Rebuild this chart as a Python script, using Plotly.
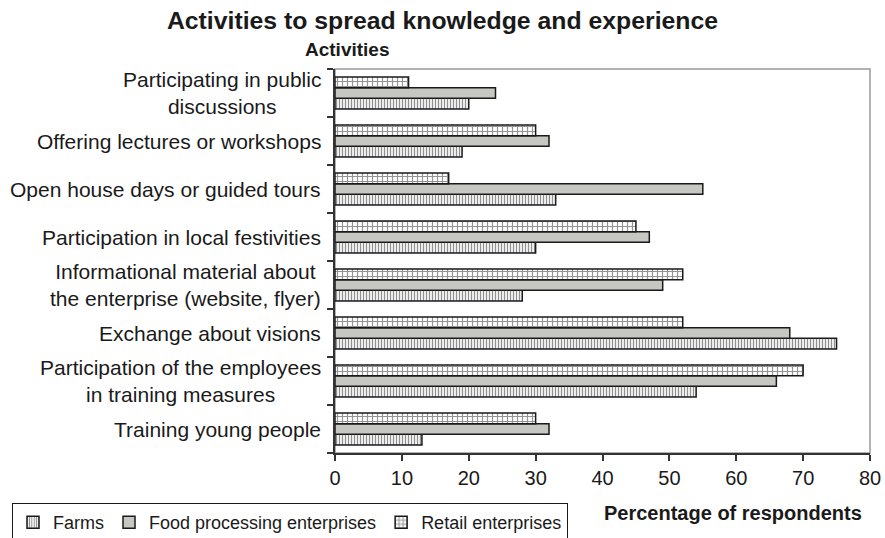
import plotly.graph_objects as go

# Activities, listed bottom-to-top as they appear on the category axis
activities = [
    "Training young people",
    "Participation of the employees<br>in training measures",
    "Exchange about visions",
    "Informational material about<br>the enterprise (website, flyer)",
    "Participation in local festivities",
    "Open house days or guided tours",
    "Offering lectures or workshops",
    "Participating in public<br>discussions",
]

farms = [13, 54, 75, 28, 30, 33, 19, 20]
food_processing = [32, 66, 68, 49, 47, 55, 32, 24]
retail = [30, 70, 52, 52, 45, 17, 30, 11]

x_ticks = [0, 10, 20, 30, 40, 50, 60, 70, 80]

FONT = "Liberation Sans, Arial, sans-serif"
INK = "#1a1a1a"
OUTLINE = dict(color=INK, width=1.5)

# plot-area geometry in pixels
L, R, T, B = 335, 15, 69, 85
W, H = 885, 538
PW, PH = W - L - R, H - T - B

fig = go.Figure()
fig.add_trace(go.Bar(
    name="Farms", y=activities, x=farms, orientation="h",
    marker=dict(color="white", line=OUTLINE,
                pattern=dict(shape="|", fgcolor="#222222", bgcolor="white",
                             size=3, solidity=0.45)),
))
fig.add_trace(go.Bar(
    name="Food processing enterprises", y=activities, x=food_processing,
    orientation="h",
    marker=dict(color="#c5c7c0", line=OUTLINE),
))
fig.add_trace(go.Bar(
    name="Retail enterprises", y=activities, x=retail, orientation="h",
    marker=dict(color="white", line=OUTLINE,
                pattern=dict(shape="+", fgcolor="#2a2a2a", bgcolor="white",
                             size=5, solidity=0.42)),
))

# centred multi-line category labels to the left of the axis
annotations = [
    dict(x=0, xref="paper", y=cat, yref="y", xanchor="right", yanchor="middle",
         xshift=-12, align="center", showarrow=False, text=cat,
         font=dict(family=FONT, size=21, color=INK))
    for cat in activities
]
annotations.append(dict(
    x=(347 - L) / PW, xref="paper", y=1 + (T - 49) / PH, yref="paper",
    xanchor="center", yanchor="middle", text="<b>Activities</b>",
    showarrow=False, font=dict(family=FONT, size=19, color=INK)))
annotations.append(dict(
    x=1, xref="paper", y=-(513 - (H - B)) / PH, yref="paper",
    xanchor="right", yanchor="middle", xshift=-6,
    text="<b>Percentage of respondents</b>",
    showarrow=False, font=dict(family=FONT, size=20, color=INK)))

fig.update_layout(
    width=W, height=H,
    margin=dict(l=L, r=R, t=T, b=B, autoexpand=False),
    paper_bgcolor="white", plot_bgcolor="white",
    barmode="group", bargap=0.33, bargroupgap=0,
    title=dict(text="<b>Activities to spread knowledge and experience</b>",
               x=0.5, xref="container", xanchor="center",
               y=1 - 20 / H, yref="container", yanchor="middle",
               font=dict(family=FONT, size=24.8, color=INK)),
    font=dict(family=FONT, color=INK),
    xaxis=dict(range=[0, 80], tickvals=x_ticks, ticks="outside", ticklen=6,
               tickwidth=1.5, tickcolor="#333333", showline=True,
               linecolor="#333333", linewidth=1.5, showgrid=False,
               zeroline=False, tickfont=dict(family=FONT, size=20)),
    yaxis=dict(type="category", categoryorder="array", categoryarray=activities,
               tickson="boundaries", ticks="outside", ticklen=6, tickwidth=1.5,
               tickcolor="#333333", showline=True, linecolor="#333333",
               linewidth=1.5, showticklabels=False, showgrid=False,
               range=[-0.5, len(activities) - 0.5]),
    legend=dict(orientation="h", xref="paper", yref="paper",
                x=(12 - L) / PW, y=-(503 - (H - B)) / PH,
                xanchor="left", yanchor="top",
                bordercolor=INK, borderwidth=1, bgcolor="white",
                font=dict(family=FONT, size=18, color=INK),
                itemwidth=30, traceorder="normal"),
    annotations=annotations,
    shapes=[dict(type="rect", xref="paper", yref="paper", x0=0, x1=1, y0=0,
                 y1=1, line=dict(color="#999999", width=1.5), layer="below")],
)

fig.write_html("out.html")
